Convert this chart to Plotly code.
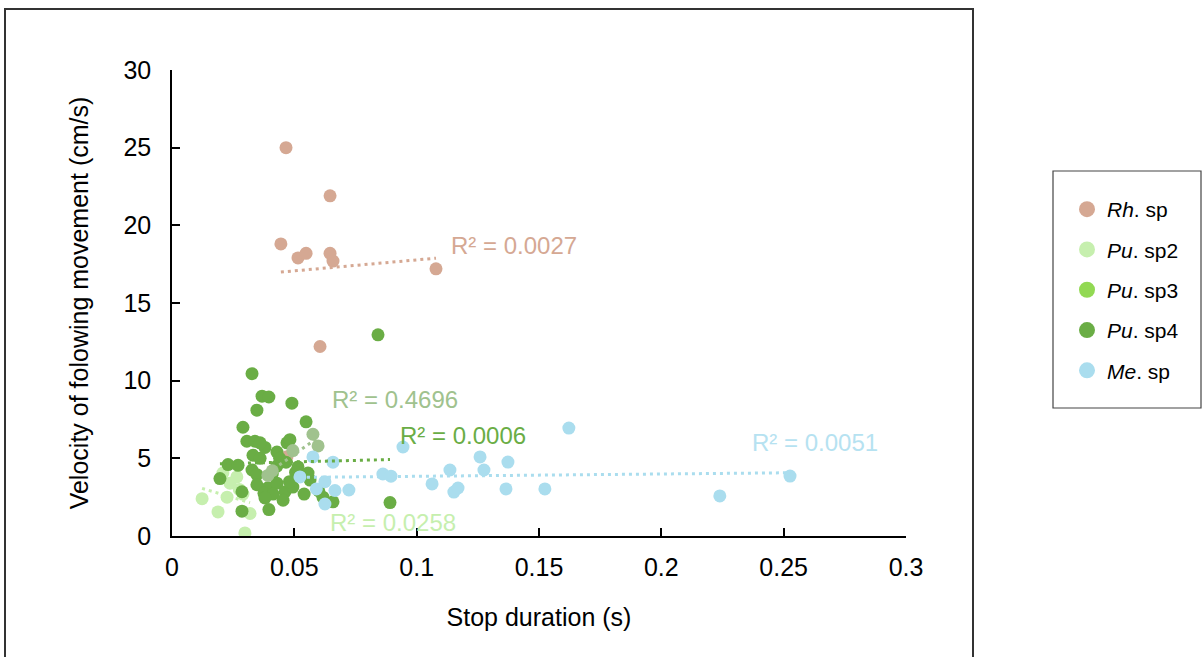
import numpy as np
import plotly.graph_objects as go

# ---- data: stop duration (s) vs. velocity of the following movement (cm/s)
rh_x = [0.0466, 0.0646, 0.0445, 0.0515, 0.0548, 0.0646, 0.0658, 0.1079, 0.0605, 0.0470]
rh_y = [25.0, 21.9, 18.8, 17.9, 18.2, 18.2, 17.7, 17.2, 12.2, 5.1]

pu2_x = [0.0123, 0.0188, 0.0225, 0.0237, 0.0265, 0.0208, 0.0275, 0.0319, 0.0298, 0.0290]
pu2_y = [2.4, 1.55, 2.5, 3.4, 3.8, 4.05, 3.0, 1.45, 0.2, 2.7]

pu3_x = [0.0392, 0.0410, 0.0494, 0.0576, 0.0597]
pu3_y = [3.9, 4.2, 5.5, 6.55, 5.8]

pu4_x = [0.0327, 0.0368, 0.0396, 0.0347, 0.0490, 0.0290, 0.0548, 0.0306, 0.0339, 0.0380,
         0.0470, 0.0482, 0.0429, 0.0331, 0.0360, 0.0229, 0.0270, 0.0196, 0.0327, 0.0347,
         0.0429, 0.0466, 0.0515, 0.0564, 0.0347, 0.0392, 0.0429, 0.0462, 0.0494, 0.0286,
         0.0376, 0.0413, 0.0454, 0.0380, 0.0396, 0.0286, 0.0617, 0.0658, 0.0891, 0.0842,
         0.0556, 0.0505, 0.0440, 0.0410, 0.0360, 0.0480, 0.0600, 0.0540]
pu4_y = [10.45, 9.0, 8.95, 8.1, 8.55, 7.0, 7.35, 6.1, 6.1, 5.7,
         6.0, 6.2, 5.4, 5.2, 5.0, 4.6, 4.55, 3.7, 4.25, 3.95,
         4.5, 4.75, 4.45, 3.6, 3.3, 3.1, 3.4, 2.85, 3.15, 2.85,
         2.75, 2.7, 2.3, 2.45, 1.7, 1.6, 2.5, 2.2, 2.15, 12.95,
         4.05, 4.1, 5.0, 4.0, 6.0, 3.5, 2.9, 2.7]

me_x = [0.0523, 0.0576, 0.0658, 0.0625, 0.0590, 0.0666, 0.0723, 0.0625, 0.0862, 0.0895,
        0.0944, 0.1063, 0.1136, 0.1152, 0.1169, 0.1259, 0.1275, 0.1365, 0.1373, 0.1524,
        0.1622, 0.2239, 0.2526]
me_y = [3.80, 5.09, 4.75, 3.5, 3.03, 2.93, 2.96, 2.06, 3.99, 3.85,
        5.73, 3.35, 4.25, 2.83, 3.09, 5.09, 4.25, 3.03, 4.76, 3.03,
        6.95, 2.58, 3.86]

x_ticks = [0, 0.05, 0.1, 0.15, 0.2, 0.25, 0.3]
x_tick_text = ["0", "0.05", "0.1", "0.15", "0.2", "0.25", "0.3"]
y_ticks = [0, 5, 10, 15, 20, 25, 30]

r2_text = {"rh": "R² = 0.0027", "pu3": "R² = 0.4696", "pu4": "R² = 0.0006",
           "pu2": "R² = 0.0258", "me": "R² = 0.0051"}

# ---- styling
FONT = "Liberation Sans, Arial, Helvetica, sans-serif"
C_RH = "#D5A893"
C_PU2 = "#C6EFAE"
C_PU3 = "#A0C28E"
C_PU3_KEY = "#92D953"
C_PU4 = "#6AAD45"
C_ME = "#AADDEE"
C_ME_TXT = "#B6E2F1"

W, H = 1203, 657
L, R, T, B = 172, 297, 70, 121
PW, PH = W - L - R, H - T - B


def px_to_paper(px, py):
    return (px - L) / PW, (H - B - py) / PH


fig = go.Figure()

series = [
    ("rh", rh_x, rh_y, C_RH),
    ("pu2", pu2_x, pu2_y, C_PU2),
    ("pu4", pu4_x, pu4_y, C_PU4),
    ("pu3", pu3_x, pu3_y, C_PU3),
    ("me", me_x, me_y, C_ME),
]

for key, xs, ys, col in series:
    fig.add_trace(go.Scatter(
        x=xs, y=ys, mode="markers", name=key, showlegend=False,
        marker=dict(size=13, color=col, line=dict(width=0)),
    ))

# legend keys
legend_items = [
    ("<i>Rh</i>. sp", C_RH),
    ("<i>Pu</i>. sp2", C_PU2),
    ("<i>Pu</i>. sp3", C_PU3_KEY),
    ("<i>Pu</i>. sp4", C_PU4),
    ("<i>Me</i>. sp", C_ME),
]
for i, (name, col) in enumerate(legend_items):
    fig.add_trace(go.Scatter(
        x=[None], y=[None], mode="markers", name=name, legendgroup=f"g{i}",
        marker=dict(size=16, color=col, line=dict(width=0)),
    ))

# linear trendlines (least squares) spanning each series' x range
for key, xs, ys, col in series:
    xa, ya = np.array(xs), np.array(ys)
    k, b = np.polyfit(xa, ya, 1)
    xl = np.array([xa.min(), xa.max()])
    fig.add_trace(go.Scatter(
        x=xl, y=k * xl + b, mode="lines", showlegend=False, hoverinfo="skip",
        line=dict(color=col, width=3, dash="3px,4px"),
    ))

# R² labels
label_pos = {"rh": (0.1132, 18.67, C_RH), "pu3": (0.0646, 8.76, C_PU3),
             "pu4": (0.0924, 6.50, C_PU4), "pu2": (0.0638, 0.84, C_PU2),
             "me": (0.2362, 5.99, C_ME_TXT)}
for key, (lx, ly, col) in label_pos.items():
    fig.add_annotation(x=lx, y=ly, text=r2_text[key], showarrow=False,
                       xanchor="left", yanchor="middle",
                       font=dict(family=FONT, size=24, color=col))

# outer chart frame and legend box
fx0, fy1 = px_to_paper(5, 9)
fx1, fy0 = px_to_paper(973, 668)
fig.add_shape(type="rect", xref="paper", yref="paper", x0=fx0, x1=fx1, y0=fy0, y1=fy1,
              line=dict(color="#333333", width=2), layer="below")
lx0, ly1 = px_to_paper(1053, 171)
lx1, ly0 = px_to_paper(1201, 408)
fig.add_shape(type="rect", xref="paper", yref="paper", x0=lx0, x1=lx1, y0=ly0, y1=ly1,
              line=dict(color="#444444", width=1.2), layer="below")

leg_x, leg_y = px_to_paper(1067, 189)

axis_common = dict(
    showgrid=False, zeroline=False, showline=True, linecolor="black", linewidth=1.5,
    ticks="inside", ticklen=8, tickwidth=1.5, tickcolor="black",
    tickfont=dict(family=FONT, size=25, color="black"),
)

fig.update_layout(
    width=W, height=H,
    margin=dict(l=L, r=R, t=T, b=B, autoexpand=False),
    paper_bgcolor="white", plot_bgcolor="white",
    font=dict(family=FONT, color="black"),
    xaxis=dict(range=[0, 0.3], tickvals=x_ticks, ticktext=x_tick_text,
               ticklabelstandoff=8,
               title=dict(text="Stop duration (s)", standoff=29,
                          font=dict(family=FONT, size=25, color="black")),
               **axis_common),
    yaxis=dict(range=[0, 30], tickvals=y_ticks, ticklabelstandoff=14,
               title=dict(text="Velocity of folowing movement (cm/s)", standoff=28,
                          font=dict(family=FONT, size=25, color="black")),
               **axis_common),
    legend=dict(x=leg_x, y=leg_y, xanchor="left", yanchor="top",
                font=dict(family=FONT, size=21, color="black"),
                bgcolor="rgba(0,0,0,0)", borderwidth=0,
                tracegroupgap=10),
    showlegend=True,
)

fig.write_html("out.html")
